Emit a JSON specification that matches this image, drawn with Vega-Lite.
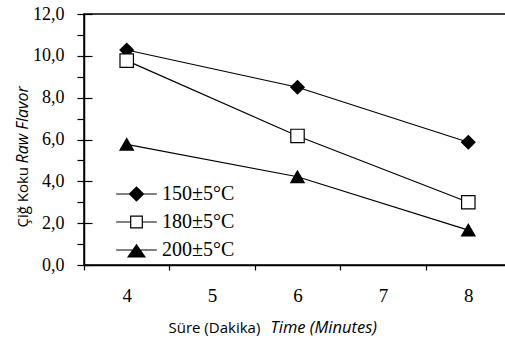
{
  "$schema": "https://vega.github.io/schema/vega-lite/v6.json",
  "width": 427,
  "height": 251,
  "autosize": "none",
  "padding": {"left": 84, "top": 14, "right": 0, "bottom": 73},
  "background": "white",
  "config": {
    "view": {"stroke": "black", "strokeWidth": 1.5},
    "axis": {"domainColor": "black", "tickColor": "black", "labelColor": "black", "titleColor": "black", "grid": false, "domainWidth": 1.5, "tickWidth": 1.2}
  },
  "data": {
    "values": [
      {"t": 4, "v": 10.28, "series": "150±5°C"},
      {"t": 6, "v": 8.5, "series": "150±5°C"},
      {"t": 8, "v": 5.87, "series": "150±5°C"},
      {"t": 4, "v": 9.77, "series": "180±5°C"},
      {"t": 6, "v": 6.17, "series": "180±5°C"},
      {"t": 8, "v": 3.0, "series": "180±5°C"},
      {"t": 4, "v": 5.77, "series": "200±5°C"},
      {"t": 6, "v": 4.22, "series": "200±5°C"},
      {"t": 8, "v": 1.67, "series": "200±5°C"}
    ]
  },
  "layer": [
    {
      "mark": {"type": "line", "color": "black", "strokeWidth": 1.2},
      "encoding": {
        "x": {
          "field": "t", "type": "quantitative",
          "scale": {"domain": [3.5, 8.5], "nice": false, "zero": false},
          "axis": {
            "orient": "bottom", "values": [3.5, 4.5, 5.5, 6.5, 7.5], "tickSize": 5, "labels": false,
            "title": "Süre (Dakika)", "titleFont": "Open Sans", "titleFontSize": 15, "titleFontWeight": "normal",
            "titleAlign": "left", "titleBaseline": "alphabetic", "titleX": 84, "titleY": 67, "titleAnchor": null
          }
        },
        "y": {
          "field": "v", "type": "quantitative",
          "scale": {"domain": [0, 12], "nice": false},
          "axis": {
            "orient": "left", "values": [0, 1, 2, 3, 4, 5, 6, 7, 8, 9, 10, 11, 12], "tickSize": 7,
            "labelExpr": "datum.value % 2 === 0 ? replace(format(datum.value, '.1f'), '.', ',') : ''",
            "labelFont": "Liberation Serif", "labelFontSize": 18, "labelPadding": 13,
            "title": "Çiğ Koku", "titleFont": "Open Sans", "titleFontSize": 15, "titleFontWeight": "normal",
            "titleAngle": -90, "titleAlign": "left", "titleBaseline": "alphabetic", "titleX": -57, "titleY": 213, "titleAnchor": null
          }
        },
        "detail": {"field": "series", "type": "nominal"}
      }
    },
    {
      "mark": {"type": "point", "filled": true, "opacity": 1, "size": 180, "strokeWidth": 1.2, "stroke": "black"},
      "encoding": {
        "x": {
          "field": "t", "type": "quantitative",
          "scale": {"domain": [3.5, 8.5], "nice": false, "zero": false},
          "axis": {
            "orient": "bottom", "values": [4, 5, 6, 7, 8], "ticks": false, "tickSize": 0, "domain": false,
            "labelFont": "Liberation Serif", "labelFontSize": 19, "labelPadding": 21,
            "title": "Time (Minutes)", "titleFont": "Open Sans", "titleFontSize": 16.5, "titleFontWeight": "normal", "titleFontStyle": "italic",
            "titleAlign": "left", "titleBaseline": "alphabetic", "titleX": 186, "titleY": 67, "titleAnchor": null
          }
        },
        "y": {
          "field": "v", "type": "quantitative",
          "scale": {"domain": [0, 12], "nice": false},
          "axis": {
            "orient": "left", "values": [0, 2, 4, 6, 8, 10, 12], "tickSize": -8, "labels": false, "domain": false,
            "title": "Raw Flavor", "titleFont": "Open Sans", "titleFontSize": 16, "titleFontWeight": "normal", "titleFontStyle": "italic",
            "titleAngle": -90, "titleAlign": "left", "titleBaseline": "alphabetic", "titleX": -57, "titleY": 149, "titleAnchor": null
          }
        },
        "shape": {
          "field": "series", "type": "nominal",
          "scale": {"domain": ["150±5°C", "180±5°C", "200±5°C"], "range": ["diamond", "square", "triangle-up"]},
          "legend": null
        },
        "fill": {
          "field": "series", "type": "nominal",
          "scale": {"domain": ["180±5°C", "150±5°C", "200±5°C"], "range": ["white", "black", "black"]},
          "legend": {
            "title": null, "orient": "none", "legendX": 42.5, "legendY": 170, "padding": 0,
            "values": ["150±5°C", "180±5°C", "200±5°C"],
            "symbolSize": 196, "symbolStrokeColor": "black", "symbolStrokeWidth": 1.2, "symbolOpacity": 1,
            "labelFont": "Liberation Serif", "labelFontSize": 20, "labelColor": "black", "labelOffset": 15.5,
            "rowPadding": 8,
            "encode": {
              "symbols": {
                "update": {
                  "shape": {"signal": "datum.value === '150±5°C' ? 'M-2.9,0H2.9M-1,0L0,-1L1,0L0,1Z' : datum.value === '180±5°C' ? 'M-2.9,0H-0.83M0.83,0H2.9M-0.83,-0.83H0.83V0.83H-0.83Z' : 'M-2.9,0H2.9M0,-0.75L1.2,1.0L-1.2,1.0Z'"},
                  "stroke": {"value": "black"},
                  "strokeWidth": {"value": 1.2},
                  "opacity": {"value": 1}
                }
              }
            }
          }
        }
      }
    }
  ],
  "resolve": {"axis": {"x": "independent", "y": "independent"}, "scale": {"fill": "independent", "shape": "independent"}}
}
